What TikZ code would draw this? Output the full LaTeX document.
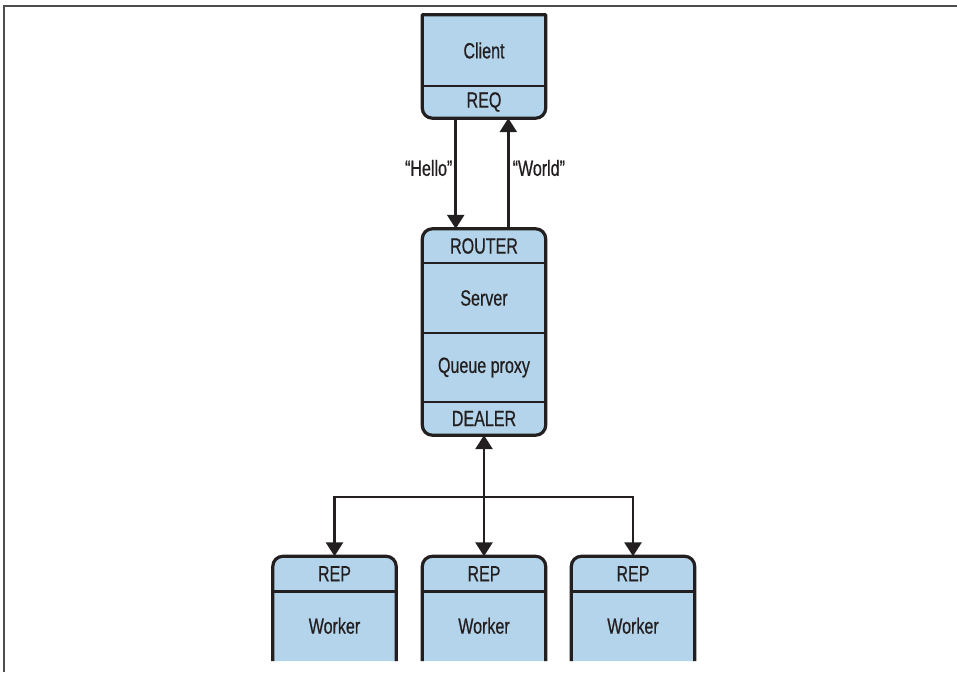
\documentclass[tikz,border=0pt]{standalone}
\usepackage{fontspec}
\setmainfont{Liberation Sans}[FakeStretch=0.73,FakeBold=0.6]
\usetikzlibrary{arrows.meta,calc}
\definecolor{boxfill}{HTML}{B3D4EA}
\definecolor{ink}{HTML}{231F20}
\definecolor{framegray}{HTML}{4D4D4D}
\tikzset{
  holder/.style={draw=none,inner sep=0pt,minimum width=123pt},
  boxline/.style={draw=ink,line width=3.2pt,fill=boxfill,line join=round},
  divider/.style={draw=ink,line width=2.8pt},
  lbl/.style={font=\fontsize{22}{25}\selectfont,text=ink,inner sep=0pt},
  arr/.style={draw=ink,line width=2.7pt,line join=miter,-{Triangle[width=17pt,length=14pt]}},
  barr/.style={draw=ink,line width=2.7pt,{Triangle[width=17pt,length=14pt]}-{Triangle[width=17pt,length=14pt]}},
  framel/.style={draw=framegray,line width=2pt}
}
\begin{document}
\begin{tikzpicture}[x=1pt,y=1pt]
\useasboundingbox (0,0) rectangle (957,672);
\clip (0,0) rectangle (957,672);
% frame
\draw[framel] (4,0) -- (4,666) -- (957,666);

% holders
\node[holder,minimum height=103pt] (client) at (484,605.5) {};
\node[holder,minimum height=206pt] (router) at (484,340) {};
\node[holder,minimum height=104.5pt] (w1) at (334.5,63.25) {};
\node[holder,minimum height=104.5pt] (w2) at (484,63.25) {};
\node[holder,minimum height=104.5pt] (w3) at (633,63.25) {};

% client box: square top, rounded bottom
\path[boxline] (client.north west) [sharp corners] -- (client.north east) [rounded corners=10pt] -- (client.south east) -- (client.south west) [sharp corners] -- cycle;
\draw[divider] ($(client.west)+(0,-19.5)$) -- ($(client.east)+(0,-19.5)$);
\node[lbl] (tclient) at (484,621.5) {Client};
\node[lbl] (treq) at (484,570) {REQ};

% router box: rounded all
\path[boxline,rounded corners=10pt] (router.north west) rectangle (router.south east);
\draw[divider] (router.west |- 0,409) -- (router.east |- 0,409);
\draw[divider] (router.west |- 0,339) -- (router.east |- 0,339);
\draw[divider] (router.west |- 0,270) -- (router.east |- 0,270);
\node[lbl] (trouter) at (484,426) {ROUTER};
\node[lbl] (tserver) at (484,374) {Server};
\node[lbl] (tqueue) at (484,304.5) {Queue proxy};
\node[lbl] (tdealer) at (484,253.5) {DEALER};

% worker boxes (cut at bottom)
\foreach \w in {w1,w2,w3}{
  \fill[boxfill] (\w.south west) [rounded corners=10pt] -- (\w.north west) -- (\w.north east) [sharp corners] -- (\w.south east) -- cycle;
  \draw[draw=ink,line width=3.2pt] (\w.south west) [rounded corners=10pt] -- (\w.north west) -- (\w.north east) [sharp corners] -- (\w.south east);
  \draw[divider] (\w.west |- 0,80.5) -- (\w.east |- 0,80.5);
  \node[lbl] at ($(\w.north)+(0,-17.5)$) {REP};
  \node[lbl] at ($(\w.north)+(0,-69.5)$) {Worker};
}

% client <-> router arrows
\draw[arr] ([xshift=-28.3pt]client.south) -- ([xshift=-28.3pt]router.north)
  node[pos=0.45,left=2pt,lbl] (hello) {“Hello”};
\draw[arr] ([xshift=24.3pt]router.north) -- ([xshift=24.3pt]client.south)
  node[pos=0.55,right=3pt,lbl] (world) {“World”};

% router <-> workers
\coordinate (bar) at (484,175);
\draw[barr] (router.south) -- (w2.north);
\draw[arr] (w1.north |- bar) -- (w3.north |- bar) -- (w3.north);
\draw[arr] (w3.north |- bar) -- (w1.north |- bar) -- (w1.north);
\end{tikzpicture}
\end{document}
